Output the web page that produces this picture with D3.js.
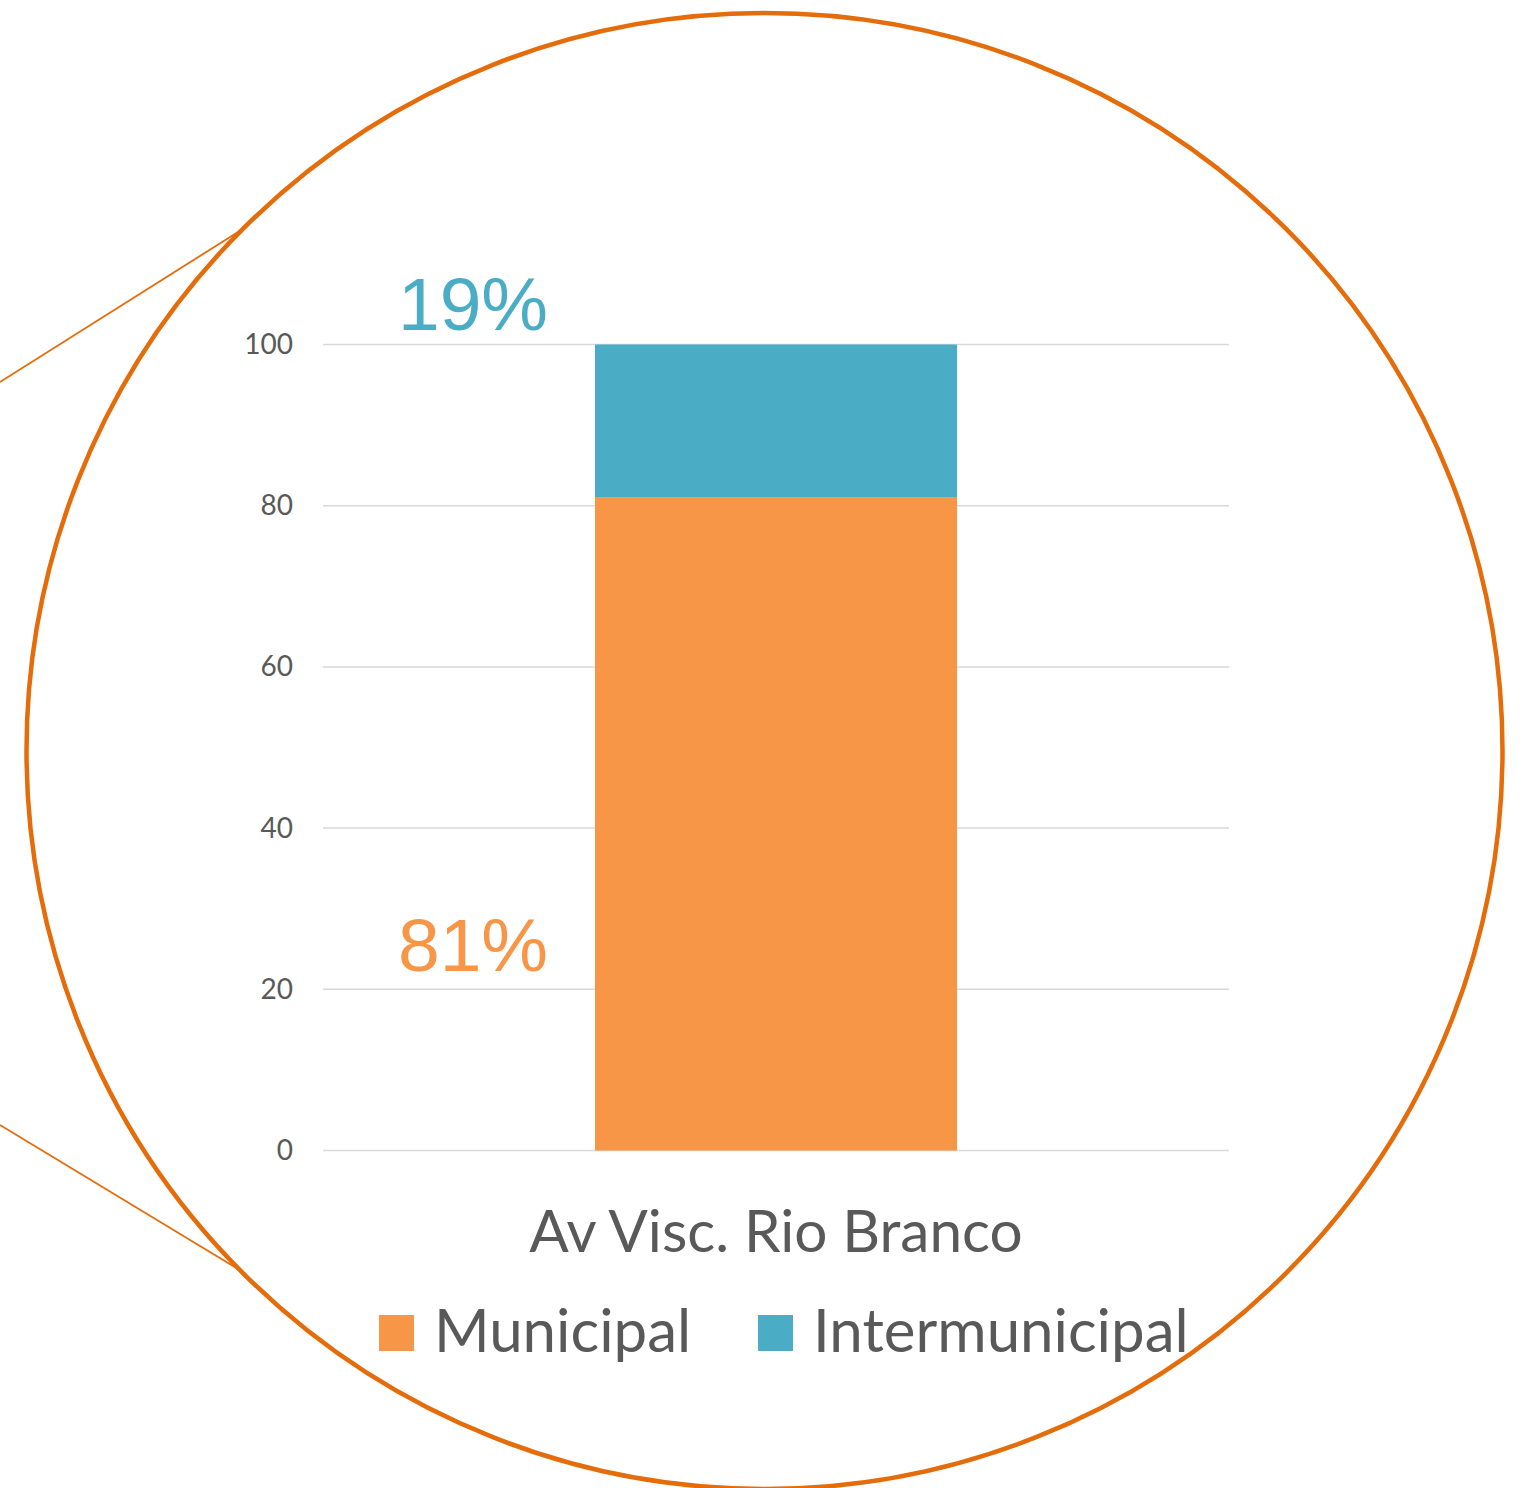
<!DOCTYPE html>
<html>
<head>
<meta charset="utf-8">
<script src="https://cdn.jsdelivr.net/npm/d3@7"></script>
<style>
  html, body { margin: 0; padding: 0; background: #fff; }
  svg { display: block; }
</style>
</head>
<body>
<div id="chart"></div>
<script>
const categories = ["Av Visc. Rio Branco"];
const seriesNames = ["Municipal", "Intermunicipal"];
const municipal = [81];
const intermunicipal = [19];
const pctLabels = ["81%", "19%"];
const yTicks = [0, 20, 40, 60, 80, 100];
const colors = ["#F79646", "#4BACC6"];

const W = 1531, H = 1488;
const labelFont = "Lato, 'Open Sans', sans-serif";
const pctFont = "'Liberation Sans', Arial, sans-serif";
const textGray = "#595959";

const svg = d3.select("#chart").append("svg")
  .attr("width", W)
  .attr("height", H);

// callout lines
svg.append("line")
  .attr("x1", 0).attr("y1", 382).attr("x2", 238).attr("y2", 232)
  .attr("stroke", "#E46C0A").attr("stroke-width", 1.8);
svg.append("line")
  .attr("x1", 0).attr("y1", 1125).attr("x2", 238).attr("y2", 1269)
  .attr("stroke", "#E46C0A").attr("stroke-width", 1.8);

const x = d3.scaleBand()
  .domain(categories)
  .range([323, 1229])
  .paddingInner(0.429)
  .paddingOuter(0.429);

const y = d3.scaleLinear()
  .domain([0, 100])
  .range([1150.5, 344.5]);

// gridlines
svg.append("g").selectAll("line")
  .data(yTicks)
  .enter().append("line")
  .attr("x1", 323).attr("x2", 1229)
  .attr("y1", d => y(d)).attr("y2", d => y(d))
  .attr("stroke", "#D9D9D9")
  .attr("stroke-width", 1.5);

// y axis labels
const yAxis = d3.axisLeft(y).tickValues(yTicks).tickSize(0).tickPadding(0);
const yG = svg.append("g")
  .attr("transform", "translate(293,0)")
  .call(yAxis);
yG.select(".domain").remove();
yG.selectAll("text")
  .attr("font-family", labelFont)
  .attr("font-size", 28)
  .attr("fill", textGray);

// stacked bars
const rows = categories.map((c, i) => ({ cat: c, Municipal: municipal[i], Intermunicipal: intermunicipal[i] }));
const stacked = d3.stack().keys(seriesNames)(rows);

svg.append("g").selectAll("g")
  .data(stacked)
  .enter().append("g")
  .attr("fill", (d, i) => colors[i])
  .selectAll("rect")
  .data(d => d)
  .enter().append("rect")
  .attr("x", d => x(d.data.cat))
  .attr("width", x.bandwidth())
  .attr("y", d => y(d[1]))
  .attr("height", d => y(d[0]) - y(d[1]));

// percentage labels
const pctX = x(categories[0]) - 122;
svg.append("text")
  .attr("x", pctX).attr("y", 971)
  .attr("text-anchor", "middle")
  .attr("font-family", pctFont)
  .attr("font-size", 75)
  .attr("fill", colors[0])
  .text(pctLabels[0]);
svg.append("text")
  .attr("x", pctX).attr("y", 330)
  .attr("text-anchor", "middle")
  .attr("font-family", pctFont)
  .attr("font-size", 75)
  .attr("fill", colors[1])
  .text(pctLabels[1]);

// category label
svg.append("text")
  .attr("x", x(categories[0]) + x.bandwidth() / 2)
  .attr("y", 1252)
  .attr("text-anchor", "middle")
  .attr("font-family", labelFont)
  .attr("font-size", 58.5)
  .attr("fill", textGray)
  .text(categories[0]);

// legend
const legendX = [379, 758];
const lg = svg.append("g").selectAll("g")
  .data(seriesNames)
  .enter().append("g")
  .attr("transform", (d, i) => `translate(${legendX[i]},1315)`);
lg.append("rect")
  .attr("width", 35).attr("height", 36)
  .attr("fill", (d, i) => colors[i]);
lg.append("text")
  .attr("x", 55).attr("y", 37)
  .attr("font-family", labelFont)
  .attr("font-size", 60)
  .attr("fill", textGray)
  .text(d => d);

// circle frame
svg.append("ellipse")
  .attr("cx", 764.5).attr("cy", 751)
  .attr("rx", 738).attr("ry", 738)
  .attr("fill", "none")
  .attr("stroke", "#E46C0A")
  .attr("stroke-width", 4.5);
</script>
</body>
</html>
